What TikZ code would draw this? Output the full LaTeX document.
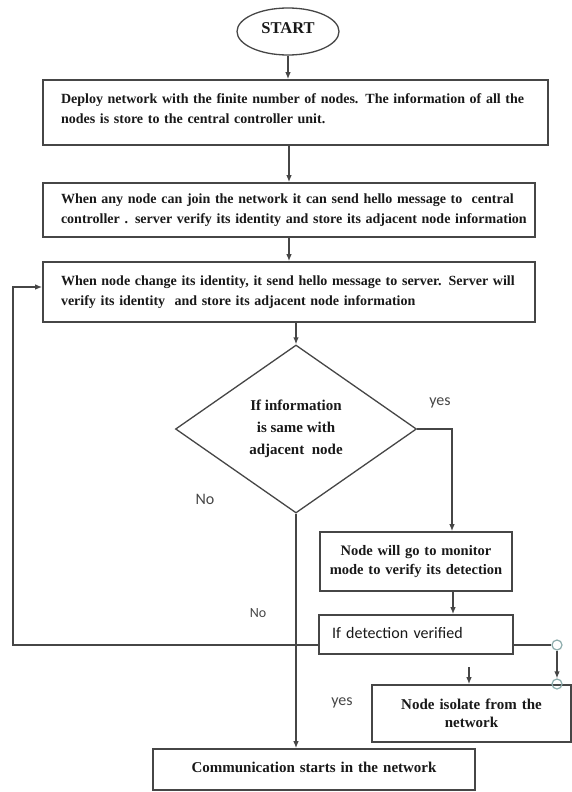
\documentclass[tikz,border=0pt]{standalone}
\usepackage{fontspec}
\setmainfont{Liberation Serif}
\newfontfamily\lblfont{Carlito}
\usetikzlibrary{shapes.geometric,calc,arrows.meta}
\definecolor{linegray}{RGB}{70,70,70}
\definecolor{textdark}{RGB}{25,25,25}
\definecolor{circgray}{RGB}{140,172,172}
\begin{document}
\begin{tikzpicture}[x=1pt,y=-1pt,
  procbox/.style={draw=linegray, line width=1.6pt, rectangle, inner ysep=0pt,
    font=\bfseries\fontsize{14}{20}\selectfont, text=textdark},
  leftbox/.style={procbox, inner xsep=18pt, align=left},
  centerbox/.style={procbox, inner xsep=2pt, align=center},
  flow/.style={draw=linegray, line width=1.3pt, -{Latex[length=7pt,width=5.5pt]}},
  plain/.style={draw=linegray, line width=1.3pt},
  lbl/.style={font=\lblfont\fontsize{16}{18}\selectfont, text=linegray, inner sep=0pt},
  joint/.style={draw=circgray, line width=1.2pt, circle, minimum size=10pt, inner sep=0pt}
]
\useasboundingbox (0,0) rectangle (572,792);
\fill[white] (0,0) rectangle (572,792);

\node[draw=linegray, line width=1.3pt, ellipse, minimum width=102pt, minimum height=47pt, inner sep=0pt,
  font=\bfseries\fontsize{16.5}{18}\selectfont, text=textdark] (start) at (288,31.5) {\raisebox{6pt}{START}};

\node[leftbox, minimum width=505pt, minimum height=65pt, text width=469pt] (box1) at (295.5,112.5)
  {\mbox{Deploy network with the finite number of nodes. The information of all the}\\
   \mbox{nodes is store to the central controller unit.}\\[-12pt]\mbox{}};

\node[leftbox, minimum width=492pt, minimum height=54pt, text width=456pt] (box2) at (289,210)
  {\mbox{When any node can join the network it can send hello message to\ \ central}\\
   \mbox{controller . server verify its identity and store its adjacent node information}};

\node[leftbox, minimum width=492pt, minimum height=60pt, text width=456pt] (box3) at (289,292)
  {\mbox{When node change its identity, it send hello message to server. Server will}\\
   \mbox{verify its identity\ \ and store its adjacent node information}};

\node[draw=linegray, line width=1.3pt, diamond, minimum width=241pt, minimum height=168pt, inner sep=0pt,
  align=center, font=\bfseries\fontsize{15}{22}\selectfont, text=textdark] (dia) at (296,429)
  {If information\\ is same with\\ adjacent\ \ node};

\node[centerbox, minimum width=192pt, minimum height=59pt, text width=188pt,
  font=\bfseries\fontsize{14.5}{19}\selectfont] (box4) at (416,561.5)
  {Node will go to monitor\\ mode to verify its detection};

\node[procbox, inner xsep=13pt, align=left, minimum width=194pt, minimum height=39pt, text width=168pt,
  font=\lblfont\fontsize{16}{18}\selectfont] (box5) at (416,634.5)
  {\raisebox{3pt}{If detection verified}};

\node[centerbox, minimum width=199pt, minimum height=57pt, text width=195pt,
  font=\bfseries\fontsize{15}{18}\selectfont] (box7) at (471.5,713.5)
  {Node isolate from the\\ network};

\node[centerbox, minimum width=322pt, minimum height=41pt, text width=318pt,
  font=\bfseries\fontsize{15}{18}\selectfont] (comm) at (314,769.5)
  {\raisebox{4pt}{Communication starts in the network}};

\node[joint] (c1) at (557,645) {};
\node[joint] (c2) at (557,684) {};
\coordinate (loopx) at (13,287);
\coordinate (sa) at (469,667);

\node[lbl] (yes1) at (440,403) {yes};
\node[lbl] (no1) at (205,499) {No};
\node[lbl, font=\lblfont\fontsize{14}{16}\selectfont] (no2) at (258,613) {No};
\node[lbl] (yes2) at (342,703) {yes};

\draw[flow] (start) -- (start.south |- box1.north);
\draw[flow] (box2.north |- box1.south) -- (box2.north);
\draw[flow] (box2.south) -- (box3.north);
\draw[flow] (dia.north |- box3.south) -- (dia.north);
\draw[flow] (dia.east) -| ([xshift=36pt]box4.north);
\draw[flow] ([xshift=37pt]box4.south) -- ([xshift=37pt]box5.north);
\draw[flow] (dia.south) -- (dia.south |- comm.north);
\draw[flow] ([yshift=-10.5pt]box5.west) -| (loopx) -- ([yshift=5pt]box3.west);
\draw[plain] ([yshift=-10.5pt]box5.east) -- (c1.west);
\draw[flow] (c1) -- (c2);
\draw[flow] (sa) -- (sa |- box7.north);
\end{tikzpicture}
\end{document}
